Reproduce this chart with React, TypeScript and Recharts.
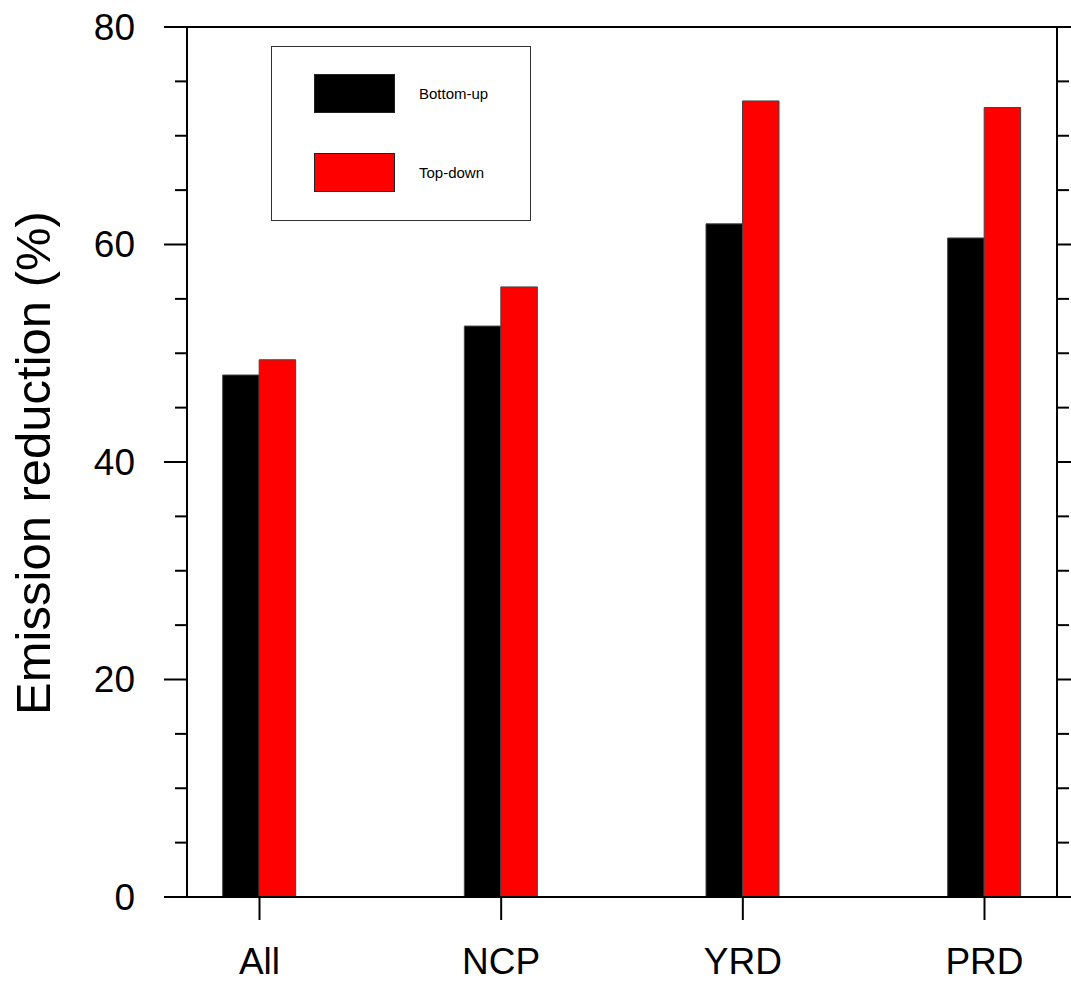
import { BarChart, Bar, XAxis, YAxis, ReferenceLine } from 'recharts';

// regions on the x axis
const categories: string[] = ['All', 'NCP', 'YRD', 'PRD'];
const positions: number[] = [1, 2, 3, 4];

// emission reduction (%)
const bottomUp: number[] = [48.0, 52.5, 61.9, 60.6];
const topDown: number[] = [49.4, 56.1, 73.2, 72.6];

const yTicks: number[] = [0, 5, 10, 15, 20, 25, 30, 35, 40, 45, 50, 55, 60, 65, 70, 75, 80];

const series = [
  { key: 'bottomUp', name: 'Bottom-up', color: '#000000' },
  { key: 'topDown', name: 'Top-down', color: '#ff0000' },
];

const data = positions.map((pos, i) => ({
  pos,
  name: categories[i],
  bottomUp: bottomUp[i],
  topDown: topDown[i],
}));

const FONT = '"Liberation Sans", Arial, Helvetica, sans-serif';

function LeftTick(props: any) {
  const { x, y, payload } = props;
  const major = payload.value % 20 === 0;
  const len = major ? 23 : 12;
  return (
    <g>
      <line x1={x - len} x2={x} y1={y} y2={y} stroke="#000" strokeWidth={2} />
      {major && (
        <text
          x={x - 52}
          y={y}
          textAnchor="end"
          dominantBaseline="central"
          fontSize={37}
          fontFamily={FONT}
          fill="#000"
        >
          {payload.value}
        </text>
      )}
    </g>
  );
}

function RightTick(props: any) {
  const { x, y, payload } = props;
  const major = payload.value % 20 === 0;
  const len = major ? 23 : 12;
  return <line x1={x} x2={x + len} y1={y} y2={y} stroke="#000" strokeWidth={2} />;
}

function BottomTick(props: any) {
  const { x, y, payload } = props;
  return (
    <text
      x={x}
      y={y + 46}
      textAnchor="middle"
      fontSize={37}
      fontFamily={FONT}
      fill="#000"
    >
      {categories[payload.value - 1]}
    </text>
  );
}

export default function App() {
  return (
    <div style={{ position: 'absolute', left: 0, top: 0, width: 1071, height: 982, background: '#fff' }}>
      <BarChart
        width={1071}
        height={982}
        data={data}
        margin={{ top: 27, right: 0, left: 0, bottom: 0 }}
        barGap={0}
      >
        <XAxis
          dataKey="pos"
          type="number"
          domain={[0.7, 4.3]}
          ticks={positions}
          height={85}
          axisLine={{ stroke: '#000', strokeWidth: 2 }}
          tickLine={{ stroke: '#000', strokeWidth: 2 }}
          tickSize={23}
          tickMargin={8}
          tick={<BottomTick />}
          interval={0}
          allowDataOverflow
        />
        <YAxis
          yAxisId="left"
          domain={[0, 80]}
          ticks={yTicks}
          width={187}
          axisLine={{ stroke: '#000', strokeWidth: 2 }}
          tickLine={false}
          tickSize={0}
          tickMargin={0}
          tick={<LeftTick />}
          interval={0}
          allowDataOverflow
        />
        <YAxis
          yAxisId="right"
          orientation="right"
          domain={[0, 80]}
          ticks={yTicks}
          width={14}
          axisLine={{ stroke: '#000', strokeWidth: 2 }}
          tickLine={false}
          tickSize={0}
          tickMargin={0}
          tick={<RightTick />}
          interval={0}
          allowDataOverflow
        />
        <ReferenceLine yAxisId="left" y={80} stroke="#000" strokeWidth={2} />
        {series.map((s) => (
          <Bar
            key={s.key}
            yAxisId="left"
            dataKey={s.key}
            name={s.name}
            fill={s.color}
            stroke="#444"
            strokeWidth={1}
            barSize={36.5}
            isAnimationActive={false}
          />
        ))}
      </BarChart>

      <div
        style={{
          position: 'absolute',
          left: 0,
          top: 0,
          width: 70,
          height: 982,
          pointerEvents: 'none',
        }}
      >
        <svg width={70} height={982}>
          <text
            transform="translate(50, 463) rotate(-90)"
            textAnchor="middle"
            fontSize={49}
            fontFamily={FONT}
            fill="#000"
          >
            Emission reduction (%)
          </text>
        </svg>
      </div>

      <div
        style={{
          position: 'absolute',
          left: 271,
          top: 46,
          width: 258,
          height: 173,
          border: '1px solid #333',
          background: '#fff',
          fontFamily: FONT,
        }}
      >
        {series.map((s, i) => (
          <div key={s.key}>
            <div
              style={{
                position: 'absolute',
                left: 42,
                top: 27 + i * 79,
                width: 81,
                height: 39,
                background: s.color,
                border: '1px solid #222',
                boxSizing: 'border-box',
              }}
            />
            <div
              style={{
                position: 'absolute',
                left: 147,
                top: 37 + i * 79,
                fontSize: 15,
                lineHeight: '20px',
                color: '#000',
                whiteSpace: 'nowrap',
              }}
            >
              {s.name}
            </div>
          </div>
        ))}
      </div>
    </div>
  );
}
